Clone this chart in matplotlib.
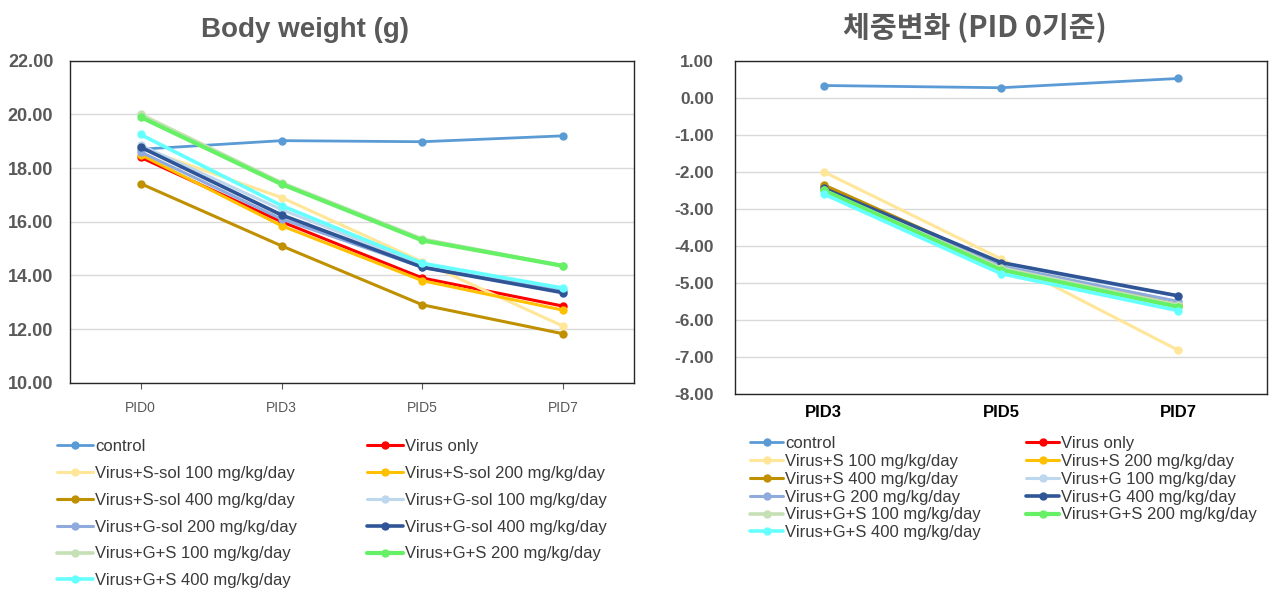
import matplotlib
matplotlib.use("Agg")
import matplotlib.pyplot as plt

plt.rcParams['font.family'] = ['Liberation Sans', 'DejaVu Sans']

# body weight (g) per group at each time point
days_bw = ['PID0', 'PID3', 'PID5', 'PID7']
groups_bw = ['control', 'Virus only',
             'Virus+S-sol 100 mg/kg/day', 'Virus+S-sol 200 mg/kg/day',
             'Virus+S-sol 400 mg/kg/day', 'Virus+G-sol 100 mg/kg/day',
             'Virus+G-sol 200 mg/kg/day', 'Virus+G-sol 400 mg/kg/day',
             'Virus+G+S 100 mg/kg/day', 'Virus+G+S 200 mg/kg/day',
             'Virus+G+S 400 mg/kg/day']
bw_control = [18.70, 19.02, 18.98, 19.20]
bw_virus = [18.40, 16.00, 13.90, 12.85]
bw_s100 = [18.75, 16.90, 14.50, 12.10]
bw_s200 = [18.50, 15.85, 13.80, 12.70]
bw_s400 = [17.42, 15.10, 12.90, 11.82]
bw_g100 = [18.85, 16.45, 14.40, 13.45]
bw_g200 = [18.60, 16.10, 14.30, 13.40]
bw_g400 = [18.78, 16.25, 14.30, 13.35]
bw_gs100 = [20.00, 17.45, 15.35, 14.35]
bw_gs200 = [19.90, 17.40, 15.30, 14.35]
bw_gs400 = [19.25, 16.60, 14.45, 13.52]

# change from PID0 (g)
days_chg = ['PID3', 'PID5', 'PID7']
groups_chg = ['control', 'Virus only',
              'Virus+S 100 mg/kg/day', 'Virus+S 200 mg/kg/day',
              'Virus+S 400 mg/kg/day', 'Virus+G 100 mg/kg/day',
              'Virus+G 200 mg/kg/day', 'Virus+G 400 mg/kg/day',
              'Virus+G+S 100 mg/kg/day', 'Virus+G+S 200 mg/kg/day',
              'Virus+G+S 400 mg/kg/day']
chg_control = [0.33, 0.27, 0.52]
chg_virus = [-2.40, -4.55, -5.60]
chg_s100 = [-2.00, -4.35, -6.82]
chg_s200 = [-2.45, -4.55, -5.60]
chg_s400 = [-2.35, -4.50, -5.60]
chg_g100 = [-2.50, -4.50, -5.35]
chg_g200 = [-2.50, -4.55, -5.50]
chg_g400 = [-2.45, -4.45, -5.35]
chg_gs100 = [-2.50, -4.60, -5.60]
chg_gs200 = [-2.50, -4.65, -5.65]
chg_gs400 = [-2.60, -4.75, -5.75]

colors = ['#5B9BD5', '#FF0000', '#FFE699', '#FFC000', '#BF9000', '#BDD7EE',
          '#8FAADC', '#2F5597', '#C5E0B4', '#66F066', '#66FFFF']
widths = [2.0, 2.2, 2.2, 2.2, 2.2, 2.2, 2.2, 2.6, 2.6, 3.0, 2.6]

bw_series = [bw_control, bw_virus, bw_s100, bw_s200, bw_s400, bw_g100,
             bw_g200, bw_g400, bw_gs100, bw_gs200, bw_gs400]
chg_series = [chg_control, chg_virus, chg_s100, chg_s200, chg_s400, chg_g100,
              chg_g200, chg_g400, chg_gs100, chg_gs200, chg_gs400]

grey = '#595959'
text_grey = '#3A3A3A'

fig = plt.figure(figsize=(12.71, 5.91), dpi=100)
ax1 = fig.add_axes([0.0551, 0.3525, 0.4437, 0.5448])
ax2 = fig.add_axes([0.5783, 0.3333, 0.4186, 0.5640])

lines1 = []
for vals, name, c, lw in zip(bw_series, groups_bw, colors, widths):
    ln, = ax1.plot(days_bw, vals, color=c, lw=lw, marker='o', ms=5,
                   label=name, solid_capstyle='round')
    lines1.append(ln)

lines2 = []
for vals, name, c, lw in zip(chg_series, groups_chg, colors, widths):
    ln, = ax2.plot(days_chg, vals, color=c, lw=lw, marker='o', ms=5,
                   label=name, solid_capstyle='round')
    lines2.append(ln)

# left panel
ax1.set_xlim(-0.5, 3.5)
ax1.set_ylim(10, 22)
ax1.set_yticks(range(10, 23, 2))
ax1.set_yticklabels(['%.2f' % v for v in range(10, 23, 2)])
ax1.grid(axis='y', color='#D9D9D9', lw=1)
ax1.set_axisbelow(True)
for s in ax1.spines.values():
    s.set_color('#262626')
    s.set_linewidth(1)
ax1.tick_params(axis='y', length=0, pad=12, labelsize=13, labelcolor=grey)
ax1.tick_params(axis='x', length=4, color='#595959', pad=9, labelsize=10,
                labelcolor=grey)
for t in ax1.get_yticklabels():
    t.set_fontweight('bold')
fig.text(0.240, 0.949, 'Body weight (g)', ha='center', va='center',
         fontsize=20, fontweight='bold', color=grey)

# right panel
ax2.set_xlim(-0.5, 2.5)
ax2.set_ylim(-8, 1)
ax2.set_yticks(range(-8, 2))
ax2.set_yticklabels(['%.2f' % v for v in range(-8, 2)])
ax2.grid(axis='y', color='#D9D9D9', lw=1)
ax2.set_axisbelow(True)
for s in ax2.spines.values():
    s.set_color('#262626')
    s.set_linewidth(1)
ax2.tick_params(axis='y', length=0, pad=15, labelsize=12.5, labelcolor=grey)
ax2.tick_params(axis='x', length=0, pad=8, labelsize=12, labelcolor='black')
for t in ax2.get_yticklabels() + ax2.get_xticklabels():
    t.set_fontweight('bold')
fig.text(0.767, 0.953, '체중변화 (PID 0기준)', ha='center', va='center',
         fontsize=21, fontweight='bold', color=grey,
         family=['Noto Sans CJK KR', 'DejaVu Sans'])

# legends laid out row by row (control | Virus only, ...)
order = [0, 2, 4, 6, 8, 10, 1, 3, 5, 7, 9]
leg1 = fig.legend([lines1[i] for i in order], [groups_bw[i] for i in order],
                  ncol=2, loc='upper left', bbox_to_anchor=(0.0448, 0.257),
                  frameon=False, fontsize=12, handlelength=2.15,
                  handletextpad=0.12, labelspacing=0.71, columnspacing=4.2,
                  borderaxespad=0, borderpad=0)
for t in leg1.get_texts():
    t.set_color(text_grey)

leg2 = fig.legend([lines2[i] for i in order], [groups_chg[i] for i in order],
                  ncol=2, loc='upper left', bbox_to_anchor=(0.590, 0.262),
                  frameon=False, fontsize=12, handlelength=2.0,
                  handletextpad=0.12, labelspacing=0.17, columnspacing=2.7,
                  borderaxespad=0, borderpad=0)
for t in leg2.get_texts():
    t.set_color(text_grey)

fig.savefig('out.png', dpi=100)
